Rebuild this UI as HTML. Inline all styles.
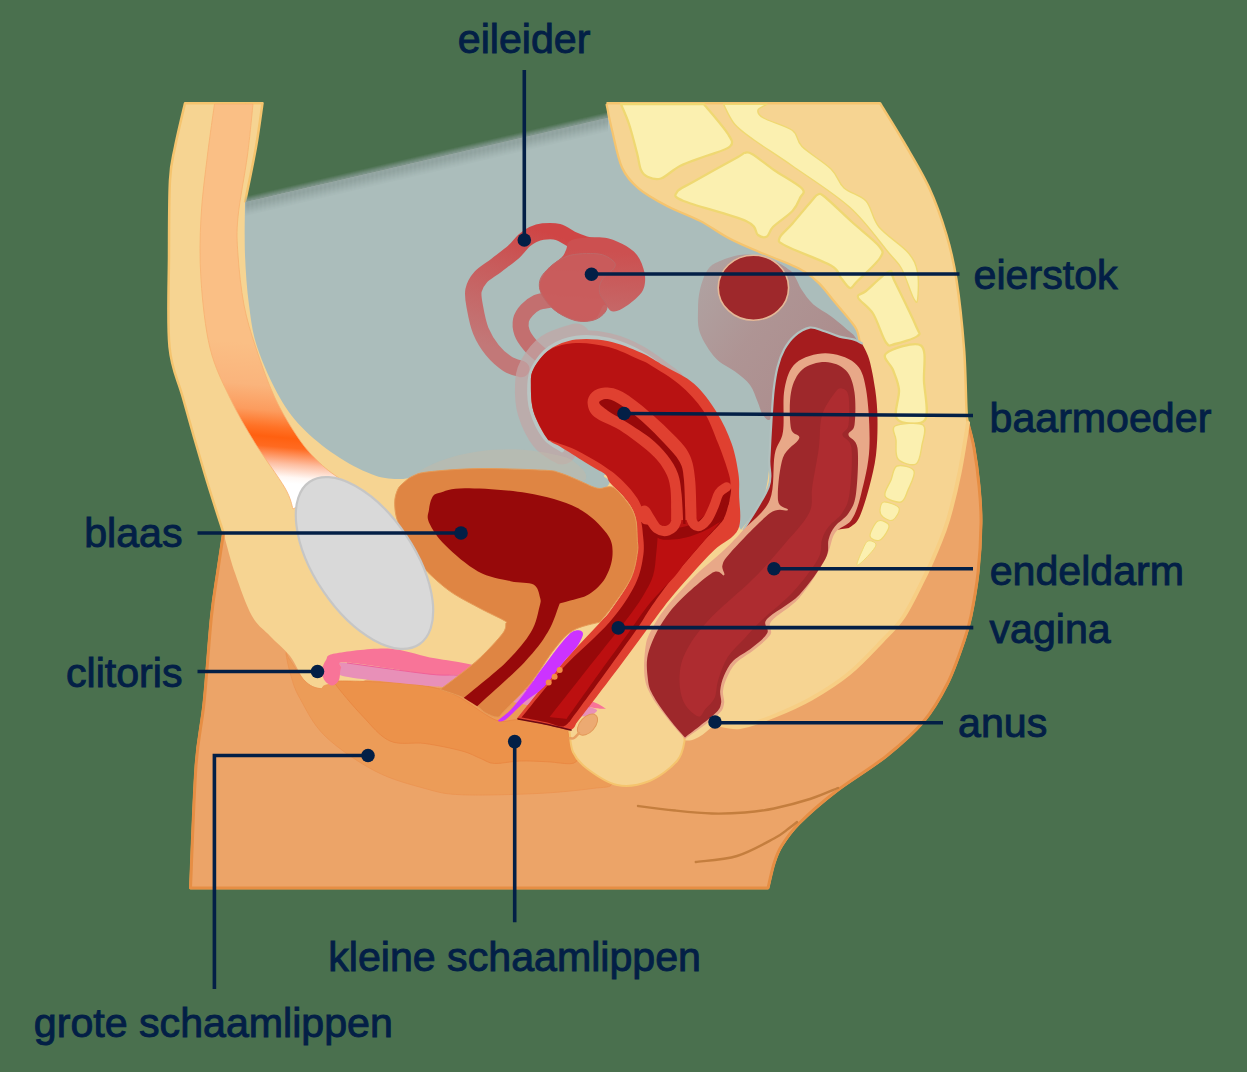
<!DOCTYPE html>
<html lang="nl">
<head>
<meta charset="utf-8">
<title>Anatomie zijaanzicht</title>
<style>
html,body{margin:0;padding:0;background:#4A704E;}
body{width:1247px;height:1072px;overflow:hidden;}
svg{display:block;}
text{font-family:"Liberation Sans",sans-serif;font-size:41.15px;fill:#031F46;stroke:#031F46;stroke-width:0.95px;}
.ln{stroke:#031F46;stroke-width:3.6;fill:none;}
.dot{fill:#031F46;}
</style>
</head>
<body>
<svg width="1247" height="1072" viewBox="0 0 1247 1072">
<defs>
<linearGradient id="gMus" gradientUnits="userSpaceOnUse" x1="262" y1="344" x2="250" y2="480">
<stop offset="0" stop-color="#FABF85"/>
<stop offset="0.30" stop-color="#FAB47C"/>
<stop offset="0.48" stop-color="#FC9C5E"/>
<stop offset="0.60" stop-color="#FF7226"/>
<stop offset="0.67" stop-color="#FF6010"/>
<stop offset="0.74" stop-color="#FF6A20"/>
<stop offset="0.86" stop-color="#FDBFA2"/>
<stop offset="0.955" stop-color="#FFF8F4"/>
<stop offset="1" stop-color="#FFFFFF"/>
</linearGradient>
<linearGradient id="gFade" gradientUnits="userSpaceOnUse" x1="0" y1="0" x2="4.1" y2="17">
<stop offset="0" stop-color="#8FA19E" stop-opacity="0"/>
<stop offset="0.55" stop-color="#93A5A2" stop-opacity="0.85"/>
<stop offset="1" stop-color="#ABBDBB" stop-opacity="1"/>
</linearGradient>
<linearGradient id="gTube" gradientUnits="userSpaceOnUse" x1="540" y1="230" x2="500" y2="350">
<stop offset="0" stop-color="#CF4545"/>
<stop offset="0.35" stop-color="#C85A5A"/>
<stop offset="1" stop-color="#C27878"/>
</linearGradient>
<linearGradient id="gOv" gradientUnits="userSpaceOnUse" x1="590" y1="250" x2="585" y2="322">
<stop offset="0" stop-color="#CC5050"/>
<stop offset="1" stop-color="#C46C6C"/>
</linearGradient>
<linearGradient id="gShade" gradientUnits="userSpaceOnUse" x1="700" y1="270" x2="830" y2="360">
<stop offset="0" stop-color="#B29292" stop-opacity="0.62"/>
<stop offset="0.5" stop-color="#AF8D8D" stop-opacity="0.85"/>
<stop offset="1" stop-color="#AC8B8B" stop-opacity="0.95"/>
</linearGradient>
</defs>
<path d="M185,103.2C183.3,110.5 177.5,134.2 175,147C172.5,159.8 171,162 170,180C169,198 169.1,227.2 169,255C168.9,282.8 167.2,323.2 169.5,347C171.8,370.8 177.2,377 183,398C188.8,419 197.8,450.5 204.5,473C211.2,495.5 220.3,523 223.5,533C222.5,539.7 219.5,559.2 217.5,573C215.5,586.8 213.8,594.3 211.5,616C209.2,637.7 206.6,678 204,703C201.4,728 198.2,735.2 196,766C193.8,796.8 191.4,867.7 190.5,888C286.8,888 671.8,888 768,888C769,883.9 771.8,870.5 774,863.5C776.2,856.5 777.3,852.7 781.5,846C785.7,839.3 789.8,832.7 799,823.5C808.2,814.3 821.9,802.2 836.5,791C851.1,779.8 871.9,767.7 886.5,756C901.1,744.3 913.8,733.1 924,721C934.2,708.9 940.8,696.8 947.5,683.5C954.2,670.2 960.1,652.2 964,641C967.9,629.8 968.7,627.3 971,616C973.3,604.7 976.3,588.5 978,573C979.7,557.5 980.8,537.6 981,523C981.2,508.4 980.2,498 979,485.5C977.8,473 975.8,458.4 974,448C972.2,437.6 969.2,429.3 968,423C966.8,416.7 967.2,422.5 966.5,410C965.8,397.5 965.7,369.7 964,348C962.3,326.3 959.4,298.8 956.5,280C953.6,261.2 951.1,250.4 946.5,235C941.9,219.6 936.1,202.9 929,187.5C921.9,172.1 912.2,156.6 904,142.5C895.8,128.4 884,109.8 880,103.2C834.4,103.2 652.1,103.2 606.5,103.2C606.8,105.7 607.8,115.5 608,118C547.5,132.1 305.5,188.3 245,202.4C246.8,193.2 253.1,163.5 256,147C258.9,130.5 261.4,110.5 262.5,103.2C249.6,103.2 197.9,103.2 185,103.2Z" fill="#F6D492"/>
<path d="M245,202.4C246.8,193.2 253.1,163.5 256,147C258.9,130.5 261.4,110.5 262.5,103.2C249.6,103.2 197.9,103.2 185,103.2C183.3,110.5 177.5,134.2 175,147C172.5,159.8 171,162 170,180C169,198 169.1,227.2 169,255C168.9,282.8 167.2,323.2 169.5,347C171.8,370.8 177.2,377 183,398C188.8,419 197.8,450.5 204.5,473C211.2,495.5 220.3,523 223.5,533C222.5,539.7 219.5,559.2 217.5,573C215.5,586.8 213.8,594.3 211.5,616C209.2,637.7 206.6,678 204,703C201.4,728 198.2,735.2 196,766C193.8,796.8 191.4,867.7 190.5,888C286.8,888 671.8,888 768,888C769,883.9 771.8,870.5 774,863.5C776.2,856.5 777.3,852.7 781.5,846C785.7,839.3 789.8,832.7 799,823.5C808.2,814.3 821.9,802.2 836.5,791C851.1,779.8 871.9,767.7 886.5,756C901.1,744.3 913.8,733.1 924,721C934.2,708.9 940.8,696.8 947.5,683.5C954.2,670.2 960.1,652.2 964,641C967.9,629.8 968.7,627.3 971,616C973.3,604.7 976.3,588.5 978,573C979.7,557.5 980.8,537.6 981,523C981.2,508.4 980.2,498 979,485.5C977.8,473 975.8,458.4 974,448C972.2,437.6 969.2,429.3 968,423C966.8,416.7 967.2,422.5 966.5,410C965.8,397.5 965.7,369.7 964,348C962.3,326.3 959.4,298.8 956.5,280C953.6,261.2 951.1,250.4 946.5,235C941.9,219.6 936.1,202.9 929,187.5C921.9,172.1 912.2,156.6 904,142.5C895.8,128.4 884,109.8 880,103.2C834.4,103.2 652.1,103.2 606.5,103.2" fill="none" stroke="#F5C46E" stroke-width="2.5" stroke-linejoin="round"/>
<path d="M223.5,533C222.5,539.7 219.5,559.2 217.5,573C215.5,586.8 213.8,594.3 211.5,616C209.2,637.7 206.6,678 204,703C201.4,728 198.2,735.2 196,766C193.8,796.8 191.4,867.7 190.5,888C286.8,888 671.8,888 768,888C769,883.9 771.8,870.5 774,863.5C776.2,856.5 777.3,852.7 781.5,846C785.7,839.3 789.8,832.7 799,823.5C808.2,814.3 821.9,802.2 836.5,791C851.1,779.8 871.9,767.7 886.5,756C901.1,744.3 913.8,733.1 924,721C934.2,708.9 940.8,696.8 947.5,683.5C954.2,670.2 960.1,652.2 964,641C967.9,629.8 968.7,627.3 971,616C973.3,604.7 976.3,588.5 978,573C979.7,557.5 980.8,537.6 981,523C981.2,508.4 980.2,498 979,485.5C977.8,473 975.8,458.4 974,448C972.2,437.6 969,427.2 968,423C966.6,431.3 962.8,456.8 959.5,473C956.2,489.2 951.6,507.7 948,520C944.4,532.3 941.6,538.2 938,547C934.4,555.8 932.2,561.5 926.5,573C920.8,584.5 911.4,604.7 904,616C896.6,627.3 891.2,631.4 882,641C872.8,650.6 860.8,663.9 849,673.5C837.2,683.1 824,691.4 811.5,698.5C799,705.6 785.9,711.2 774,716C762.1,720.8 749.7,725.7 740,727C730.3,728.3 720,724.5 716,724C710.7,726.7 696.7,744 684,740C671.3,736 660.7,708.3 640,700C619.3,691.7 589.7,693.3 560,690C530.3,686.7 488.7,683.3 462,680C435.3,676.7 420.3,668.3 400,670C379.7,671.7 351.7,687.2 340,690C328.3,692.8 333.3,687.2 330,687C326.7,686.8 324.2,689.5 320,688.5C315.8,687.5 310,686.4 305,681C300,675.6 295.8,663.5 290,656C284.2,648.5 276.3,642.7 270,636C263.7,629.3 257.8,626.5 252,616C246.2,605.5 239.8,586.8 235,573C230.2,559.2 225.4,539.7 223.5,533Z" fill="#ECA468"/>
<path d="M223.5,533C222.5,539.7 219.5,559.2 217.5,573C215.5,586.8 213.8,594.3 211.5,616C209.2,637.7 206.6,678 204,703C201.4,728 198.2,735.2 196,766C193.8,796.8 191.4,867.7 190.5,888C286.8,888 671.8,888 768,888C769,883.9 771.8,870.5 774,863.5C776.2,856.5 777.3,852.7 781.5,846C785.7,839.3 789.8,832.7 799,823.5C808.2,814.3 821.9,802.2 836.5,791C851.1,779.8 871.9,767.7 886.5,756C901.1,744.3 913.8,733.1 924,721C934.2,708.9 940.8,696.8 947.5,683.5C954.2,670.2 960.1,652.2 964,641C967.9,629.8 968.7,627.3 971,616C973.3,604.7 976.3,588.5 978,573C979.7,557.5 980.8,537.6 981,523C981.2,508.4 980.2,498 979,485.5C977.8,473 975.8,458.4 974,448C972.2,437.6 969,427.2 968,423" fill="none" stroke="#E68E44" stroke-width="3.0" stroke-linejoin="round"/>
<path d="M968,423C966.6,431.3 962.8,456.8 959.5,473C956.2,489.2 951.6,507.7 948,520C944.4,532.3 941.6,538.2 938,547C934.4,555.8 932.2,561.5 926.5,573C920.8,584.5 911.4,604.7 904,616C896.6,627.3 891.2,631.4 882,641C872.8,650.6 860.8,663.9 849,673.5C837.2,683.1 824,691.4 811.5,698.5C799,705.6 785.9,711.2 774,716C762.1,720.8 749.7,725.7 740,727C730.3,728.3 720,724.5 716,724" fill="none" stroke="#F7CE84" stroke-width="4" stroke-linecap="round"/>
<path d="M214.5,104C213.3,112.5 209.8,136.2 207.5,155C205.2,173.8 202.1,196.2 201,217C199.9,237.8 199.5,258.2 201,280C202.5,301.8 205.2,328.3 210,348C214.8,367.7 222.5,382.2 230,398C237.5,413.8 245.8,428 255,443C264.2,458 278.7,477 285,488C291.3,499 291.7,505.5 293,509C301.3,504.3 334.7,485.7 343,481C339.6,478.4 329.7,472.2 322.5,465.5C315.3,458.8 307.9,451.8 300,440.5C292.1,429.2 282.3,413.4 275,398C267.7,382.6 261.2,363.5 256,348C250.8,332.5 247,320.5 244,305C241,289.5 239,269.7 238,255C237,240.3 236.4,233.7 238,217C239.6,200.3 245,173.8 247.5,155C250,136.2 252.1,112.5 253,104C246.6,104 220.9,104 214.5,104Z" fill="url(#gMus)" stroke="#F8B070" stroke-width="0.8"/>
<g transform="translate(245,185.5)"><path d="M0,0L363,-88.6L363,-71.6L0,17Z" fill="url(#gFade)" transform="skewY(-13.72) scale(1,1)" opacity="0"/></g>
<path d="M245,202.4C245,211.2 244.3,237.9 245,255C245.7,272.1 246.9,289.5 249,305C251.1,320.5 252.3,332.5 257.5,348C262.7,363.5 272.1,384.2 280,398C287.9,411.8 295,420.5 305,430.5C315,440.5 328.3,450.5 340,458C351.7,465.5 365,472 375,475.5C385,479 392.5,478.9 400,479C407.5,479.1 416.7,476.5 420,476C443.3,476 536.7,476 560,476C564.2,477.2 578.6,481.3 585,483.5C591.4,485.7 594.9,488.3 598.4,489C601.9,489.7 604.1,488.8 606,487.5C607.9,486.2 610,483.2 610,481C610,478.8 599.3,476.3 606,474.5C612.7,472.7 631,465.8 650,470C669,474.2 704.8,490 720,500C735.2,510 737.5,525 741,530C745,523.8 759.8,509.5 765,493C770.2,476.5 769.8,449.5 772,431C774.2,412.5 775.3,395.2 778,382C780.7,368.8 781,358 788,352C795,346 807.7,346.3 820,346C832.3,345.7 855,349.3 862,350C861.7,348.3 860.9,343.4 860,340C859.1,336.6 858.5,333.3 856.7,329.9C854.9,326.5 853,324.1 849.3,319.4C845.6,314.7 839.3,307.5 834.3,301.5C829.3,295.5 824.4,288.6 819.4,283.6C814.4,278.6 809.5,274.8 804.5,271.6C799.5,268.4 797.1,267.4 789.6,264.2C782.1,261 769.7,256.4 759.7,252.2C749.8,248 739.9,244 729.9,238.8C719.9,233.6 710.5,226.4 700,220.9C689.5,215.4 677.2,211.4 667,206C656.8,200.6 646,194.7 638.5,188.3C631,181.9 626.4,177.2 622,167.5C617.6,157.8 614.3,138.2 612,130C609.7,121.8 608.7,120 608,118C547.5,132.1 305.5,188.3 245,202.4Z" fill="#ABBDBB"/>
<path d="M245.5,196.4L608,112.0L608,113.25L245.5,197.65Z" fill="#8FA19E" fill-opacity="0.12"/>
<path d="M245.5,197.4L608,113.0L608,114.25L245.5,198.65Z" fill="#8FA19E" fill-opacity="0.25"/>
<path d="M245.5,198.4L608,114.0L608,115.25L245.5,199.65Z" fill="#8FA19E" fill-opacity="0.39"/>
<path d="M245.5,199.4L608,115.0L608,116.25L245.5,200.65Z" fill="#8FA19E" fill-opacity="0.54"/>
<path d="M245.5,200.4L608,116.0L608,117.25L245.5,201.65Z" fill="#8FA19E" fill-opacity="0.69"/>
<path d="M245.5,201.4L608,117.0L608,118.25L245.5,202.65Z" fill="#8FA19E" fill-opacity="0.84"/>
<path d="M245.5,202.4L608,118.0L608,119.25L245.5,203.65Z" fill="#91A3A0" fill-opacity="1.00"/>
<path d="M245.5,203.4L608,119.0L608,120.25L245.5,204.65Z" fill="#91A3A0" fill-opacity="1.00"/>
<path d="M245.5,204.4L608,120.0L608,121.25L245.5,205.65Z" fill="#91A3A0" fill-opacity="1.00"/>
<path d="M245.5,205.4L608,121.0L608,122.25L245.5,206.65Z" fill="#91A3A0" fill-opacity="1.00"/>
<path d="M245.5,206.4L608,122.0L608,123.25L245.5,207.65Z" fill="#94A6A3" fill-opacity="1.00"/>
<path d="M245.5,207.4L608,123.0L608,124.25L245.5,208.65Z" fill="#96A8A5" fill-opacity="1.00"/>
<path d="M245.5,208.4L608,124.0L608,125.25L245.5,209.65Z" fill="#99ABA8" fill-opacity="1.00"/>
<path d="M245.5,209.4L608,125.0L608,126.25L245.5,210.65Z" fill="#9BADAB" fill-opacity="1.00"/>
<path d="M245.5,210.4L608,126.0L608,127.25L245.5,211.65Z" fill="#9EB0AE" fill-opacity="1.00"/>
<path d="M245.5,211.4L608,127.0L608,128.25L245.5,212.65Z" fill="#A1B3B0" fill-opacity="1.00"/>
<path d="M245.5,212.4L608,128.0L608,129.25L245.5,213.65Z" fill="#A3B5B3" fill-opacity="1.00"/>
<path d="M245.5,213.4L608,129.0L608,130.25L245.5,214.65Z" fill="#A6B8B6" fill-opacity="1.00"/>
<path d="M245.5,214.4L608,130.0L608,131.25L245.5,215.65Z" fill="#A8BAB8" fill-opacity="1.00"/>
<path d="M606.5,104C607.4,108.3 609.4,119.4 612,130C614.6,140.6 617.6,157.8 622,167.5C626.4,177.2 631,181.9 638.5,188.3C646,194.7 656.8,200.6 667,206C677.2,211.4 689.5,215.4 700,220.9C710.5,226.4 719.9,233.6 729.9,238.8C739.9,244 749.8,248 759.7,252.2C769.7,256.4 782.1,261 789.6,264.2C797.1,267.4 799.5,268.4 804.5,271.6C809.5,274.8 814.4,278.6 819.4,283.6C824.4,288.6 829.3,295.5 834.3,301.5C839.3,307.5 845.6,314.7 849.3,319.4C853,324.1 854.9,326 856.7,329.9C858.5,333.8 859.5,340.8 860,343" fill="none" stroke="#F5C46E" stroke-width="2.2"/>
<path d="M621,104.2C634.8,104.2 690.2,104.2 704,104.2C708,109.2 723.7,127 728,134C732.3,141.1 733.7,142.8 730,146.5C726.3,150.2 714.3,152.8 706,156C697.7,159.2 687.5,162.2 680,166C672.5,169.8 666.3,176.7 661,178.5C655.7,180.3 651.3,178.4 648,177C644.7,175.6 642.8,174 641,170C639.2,166 639,160.7 637,153C635,145.3 631.7,132.1 629,124C626.3,115.9 622.3,107.5 621,104.2Z" fill="#FBF0B0" stroke="#EFD872" stroke-width="2.3" stroke-linejoin="round"/>
<path d="M744.5,153C746.8,152.5 747.1,151.2 752,154C756.9,156.8 765.7,164.2 774,170C782.3,175.8 797.7,183.8 802,188.5C806.3,193.2 801.6,194.2 800,198C798.4,201.8 797,206.2 792.5,211C788,215.8 777.2,222.8 773,227C768.8,231.2 769.5,235.2 767,236.5C764.5,237.8 761.5,237.6 758,235C754.5,232.4 758.4,226.7 746,221C733.6,215.3 695,205.8 683.5,201C672,196.2 675.4,195.2 677,192C678.6,188.8 682.8,187.8 693,182C703.2,176.2 729.4,161.8 738,157C746.6,152.2 742.2,153.5 744.5,153Z" fill="#FBF0B0" stroke="#EFD872" stroke-width="2.3" stroke-linejoin="round"/>
<path d="M818,194.5C820.2,193.8 819.3,192.4 825,197C830.7,201.6 843,213.8 852,222C861,230.2 874.3,240 879,246C883.7,252 883.7,252.1 880,258C876.3,263.9 862,276.5 857,281.5C852,286.5 852.7,288.6 850,288C847.3,287.4 844.2,281.8 841,278C837.8,274.2 840.2,270.8 831,265.5C821.8,260.2 794.6,250.6 786,246C777.4,241.4 778.4,241.8 779.5,238C780.6,234.2 787.2,229.7 792.5,223.5C797.8,217.3 807.2,205.8 811.5,201C815.8,196.2 815.8,195.2 818,194.5Z" fill="#FBF0B0" stroke="#EFD872" stroke-width="2.3" stroke-linejoin="round"/>
<path d="M866,291C871.2,286.7 884.3,273.3 889,271.5C893.7,269.7 889.5,270.9 894,280C898.5,289.1 912.1,316.7 916,326C919.9,335.3 921,333 917.5,336C914,339 900.2,342.9 895,344C889.8,345.1 889.7,347.6 886,342.5C882.3,337.4 877.7,321 873,313.5C868.3,306 859.2,301.2 858,297.5C856.8,293.8 860.8,295.3 866,291Z" fill="#FBF0B0" stroke="#EFD872" stroke-width="2.3" stroke-linejoin="round"/>
<path d="M886,353.5C890.7,349.4 914.7,340.8 921,345.5C927.3,350.2 923.3,369.1 924,381.5C924.7,393.9 929.5,413.8 925,420C920.5,426.2 901.3,424 897,419C892.7,414 899.7,398.2 899,390C898.3,381.8 895.2,376.1 893,370C890.8,363.9 881.3,357.6 886,353.5Z" fill="#FBF0B0" stroke="#EFD872" stroke-width="2.3" stroke-linejoin="round"/>
<path d="M895,426C899.5,423.5 918.5,421.8 923,425C927.5,428.2 923.2,438.5 922,445C920.8,451.5 920,461.7 916,464C912,466.3 901.3,463 898,459C894.7,455 896.5,445.5 896,440C895.5,434.5 890.5,428.5 895,426Z" fill="#FBF0B0" stroke="#EFD872" stroke-width="1.4" stroke-linejoin="round"/>
<path d="M897,466C900.8,464.5 912.2,467 914,471C915.8,475 910.2,484.8 908,490C905.8,495.2 904.8,501 901,502C897.2,503 886.7,499.7 885,496C883.3,492.3 889,485 891,480C893,475 893.2,467.5 897,466Z" fill="#FBF0B0" stroke="#EFD872" stroke-width="1.4" stroke-linejoin="round"/>
<path d="M884,502C887.2,501.7 897.5,505 899,508C900.5,511 895.7,518.5 893,520C890.3,521.5 885.2,518.7 883,517C880.8,515.3 879.8,512.5 880,510C880.2,507.5 880.8,502.3 884,502Z" fill="#FBF0B0" stroke="#EFD872" stroke-width="1.2" stroke-linejoin="round"/>
<path d="M878,521C881.2,519.3 888.7,522.8 889,526C889.3,529.2 883.2,538.3 880,540C876.8,541.7 870.3,539.2 870,536C869.7,532.8 874.8,522.7 878,521Z" fill="#FBF0B0" stroke="#EFD872" stroke-width="1.2" stroke-linejoin="round"/>
<path d="M868,541C870.3,540 876.3,542.2 876,545C875.7,547.8 869.2,554.7 866,558C862.8,561.3 857.7,566.2 857,565C856.3,563.8 860.2,555 862,551C863.8,547 865.7,542 868,541Z" fill="#FBF0B0" stroke="#EFD872" stroke-width="1.0" stroke-linejoin="round"/>
<path d="M723.5,104.2C730.8,104.2 759.8,104.2 767,104.2C765.5,105.2 758.6,107.7 758,110C757.4,112.3 757.8,114.6 763.5,118C769.2,121.4 786.1,125.8 792.5,130.5C798.9,135.2 795.6,140.1 802,146.5C808.4,152.9 824,162.1 831,169C838,175.9 838.2,182.7 844,188C849.8,193.3 860.2,194.5 866,201C871.8,207.5 872,218.4 879,227C886,235.6 901.6,245 908,252.5C914.4,260 915.9,264.1 917.5,272C919.1,279.9 918.2,295.8 917.5,300C916.8,304.2 915.7,302.2 913,297C910.3,291.8 905.6,275.9 901.5,268.5C897.4,261.1 897.1,262.7 888.5,252.5C879.9,242.3 866,221.9 850,207.5C834,193.1 808.5,177.2 792.5,166C776.5,154.8 763.7,147 754,140C744.3,133 739.6,130 734.5,124C729.4,118 725.3,107.5 723.5,104.2Z" fill="#FBF0B0" stroke="#EFD872" stroke-width="1.4" stroke-linejoin="round"/>
<path d="M286,653.5C286.2,656.2 288.7,668.5 291,676C293.3,683.5 294.3,688.5 300,698.5C305.7,708.5 312.5,723.9 325,736C337.5,748.1 358.3,762.2 375,771C391.7,779.8 410.5,784.5 425,788.5C439.5,792.5 443.3,794 462,794.8C480.7,795.6 515.3,794.5 537,793.5C558.7,792.5 579.5,790.2 592,788.5C604.5,786.8 610.7,788.2 612,783.5C613.3,778.8 606.2,768.1 600,760C593.8,751.9 581.7,745 575,735C568.3,725 578.8,707.5 560,700C541.2,692.5 498.7,692.7 462,690C425.3,687.3 363.7,684.2 340,684C316.3,683.8 325.8,689 320,688.5C314.2,688 310,685.8 305,681C300,676.2 293.2,664.6 290,660C286.8,655.4 285.8,650.8 286,653.5Z" fill="#EC9C58" stroke="#EB9350" stroke-width="0.8"/>
<path d="M335,683.5C331.2,677.7 329.2,681.1 340,681C350.8,680.9 383.8,681.8 400,683C416.2,684.2 427.4,686 437.5,688.5C447.6,691 452.3,693.4 460.3,697.8C468.3,702.1 478.9,710.7 485.6,714.6C492.3,718.5 495.4,720.5 500.7,721.4C506,722.2 509.7,719.7 517.6,719.7C525.5,719.7 540,720 547.9,721.4C555.8,722.8 561.1,725.3 564.7,728.1C568.4,730.9 568.4,734.3 569.8,738.2C571.2,742.1 571.5,748.7 573.1,751.7C574.7,754.7 579.7,754 579.5,756C579.3,758 577.3,762.5 572,763.5C566.7,764.5 556.6,762.2 547.9,761.8C539.1,761.4 528.4,760.7 519.5,761C510.6,761.3 501,763.9 494.5,763.5C488,763.1 485.9,760.5 480.5,758.4C475.1,756.3 471.2,753.5 462,751C452.8,748.5 437,745.2 425,743.5C413,741.8 400.4,745.6 390,741C379.6,736.4 371.7,725.6 362.5,716C353.3,706.4 338.8,689.3 335,683.5Z" fill="#EC924A" stroke="#E98540" stroke-width="0.8"/>
<path d="M569.5,731C570.1,734.5 570.1,745.8 573,752C575.9,758.2 579.7,763 587,768.5C594.3,774 606.6,782.9 617,785C627.4,787.1 639.5,785 649.5,781C659.5,777 671.2,767.7 677,761C682.8,754.3 683.7,745.6 684.5,741C685.3,736.4 682.4,734.8 682,733.5C679.9,731.4 674.5,727.2 669.5,721C664.5,714.8 656.9,706.2 652,696C647.1,685.8 647,662.7 640,660C633,657.3 619.2,671.3 610,680C600.8,688.7 591.8,703.5 585,712C578.2,720.5 572.1,727.8 569.5,731Z" fill="#F6D492"/>
<path d="M569.5,731C570.1,734.5 570.1,745.8 573,752C575.9,758.2 579.7,763 587,768.5C594.3,774 606.6,782.9 617,785C627.4,787.1 639.5,785 649.5,781C659.5,777 671.2,767.7 677,761C682.8,754.3 683.7,745.6 684.5,741C685.3,736.4 682.4,734.8 682,733.5" fill="none" stroke="#F5C46E" stroke-width="2" stroke-linecap="round"/>
<path d="M341,667C341.4,664.7 332.7,661.6 347.5,662.8C362.3,664 409.9,672 430,674.2C450.1,676.4 449.7,672.9 468,676C486.3,679.1 519.7,687.8 540,693C560.3,698.2 580.7,703.8 590,707C599.3,710.2 597.4,710.5 596,712C594.6,713.5 590.9,717 581.6,716.3C572.3,715.6 553.6,710.9 540,708C526.4,705.1 516.2,702.5 500,699C483.8,695.5 454.2,689.2 442.5,687C430.8,684.8 446.2,687.8 430,686C413.8,684.2 359.8,679.7 345,676.5C330.2,673.3 340.6,669.3 341,667Z" fill="#E890B8"/>
<path d="M322,671C322.2,667.5 323.8,662.9 326,660C328.2,657.1 324.8,655.4 335,653.5C345.2,651.6 371.7,647.9 387.5,648.5C403.3,649.1 416.5,654.8 430,657.4C443.5,660 450.4,659.8 468.7,664.1C487,668.4 519.5,676.8 540,683C560.5,689.2 580.7,696.9 591.7,701.2C602.7,705.5 603.6,707.5 606,708.7C603.3,708.4 601,709.6 590,707C579,704.4 560.3,698.2 540,693C519.7,687.8 486.3,679.1 468,676C449.7,672.9 450.1,676.5 430,674.2C409.9,672 362.3,663.5 347.5,662.5C332.7,661.5 342.4,665.1 341,668C339.6,670.9 340.4,677.1 339,680C337.6,682.9 334.8,685.3 332.5,685.5C330.2,685.7 326.8,683.4 325,681C323.2,678.6 321.8,674.5 322,671Z" fill="#F87498"/>
<path d="M347,663C360.8,664.9 409.8,672 430,674.2C450.2,676.5 449.7,673.4 468,676.5C486.3,679.6 519.7,687.9 540,693C560.3,698.1 581.7,704.7 590,707" fill="none" stroke="#F0609A" stroke-width="1"/>
<path d="M744.8,254.5C736.1,254.8 725.6,258.6 719.4,261.2C713.2,263.8 710.7,265.3 707.5,270C704.3,274.7 701.6,282.9 700,289.6C698.4,296.3 698,302.8 698,310C698,317.2 697.1,325 700,333C702.9,341 709.7,351.6 715.5,358C721.3,364.4 729.2,367.1 735,371.6C740.8,376.1 746.2,380 750,385C753.8,390 755.3,396.5 757.5,401.5C759.7,406.5 760.8,412.2 763,415C765.2,417.8 768.7,423 771,418C773.3,413 773.8,396 777,385C780.2,374 782.8,358.5 790,352C797.2,345.5 808.7,346.8 820,346C831.3,345.2 852.1,348.4 858,347C863.9,345.6 856.7,339.9 855.2,337.3C853.8,334.7 853.3,334.8 849.3,331.3C845.3,327.8 837.3,320.9 831.3,316.4C825.3,311.9 818.4,309 813.4,304.5C808.4,300 804.5,294.1 801.5,289.6C798.5,285.1 797.5,280.9 795.5,277.6C793.5,274.4 793.6,273.1 789.6,270.1C785.6,267.1 779.1,262.3 771.6,259.7C764.1,257.1 753.5,254.2 744.8,254.5Z" fill="url(#gShade)"/>
<ellipse cx="753.4" cy="287.7" rx="35.2" ry="32.5" fill="#9E282B" stroke="#E4B898" stroke-width="1.6"/>
<path d="M809.6,327.6C804.6,328.4 798.8,332.2 794.6,335.8C790.4,339.4 787.1,344.1 784.2,349.3C781.4,354.5 779.2,360.5 777.5,367.2C775.8,373.9 774.7,380.9 773.7,389.6C772.7,398.3 772.2,407.7 771.5,419.4C770.8,431.1 769.8,448.7 769.3,460C768.8,471.3 772.8,475.4 768.5,487C764.2,498.6 747.8,522.5 743.7,529.6C746.4,531.3 742.5,540.3 760,540C777.5,539.7 834.2,530 849,528C850.7,526.3 855.7,524.7 859,518C862.3,511.3 866.2,498.5 869,488C871.8,477.5 874.6,466.4 876,455C877.4,443.6 877.6,430.3 877.5,419.4C877.4,408.5 876.6,399.6 875.2,389.6C873.8,379.7 871.5,367.4 869.3,359.7C867.1,352 863,346 861.8,343.3C860.5,342.7 858,340.7 854.3,339.6C850.6,338.5 844.4,338 839.4,336.6C834.4,335.2 829.5,332.8 824.5,331.3C819.5,329.8 814.6,326.9 809.6,327.6Z" fill="#A51C1E"/>
<path d="M743.7,529.6C747.8,522.5 764.2,498.6 768.5,487C772.8,475.4 768.8,471.3 769.3,460C769.8,448.7 770.8,431.1 771.5,419.4C772.2,407.7 772.7,398.3 773.7,389.6C774.7,380.9 775.8,373.9 777.5,367.2C779.2,360.5 781.4,354.5 784.2,349.3C787.1,344.1 790.4,339.4 794.6,335.8C798.8,332.2 804.6,328.4 809.6,327.6C814.6,326.9 819.5,329.8 824.5,331.3C829.5,332.8 834.4,335.2 839.4,336.6C844.4,338 850.6,338.5 854.3,339.6C858,340.7 860.5,342.7 861.8,343.3" fill="none" stroke="#B2C1BF" stroke-width="2.2" stroke-linecap="round"/>
<path d="M825.3,353.3C815.5,353.3 802.8,357.1 796,363C789.2,368.9 786.7,377.6 784.5,389C782.3,400.4 784.6,420.7 783,431.6C781.4,442.5 776.9,443.1 774.7,454.5C772.5,465.9 775,487.5 769.8,500C764.6,512.5 750.5,522.1 743.7,529.6C737,537.1 734.2,540.1 729.3,545C724.3,549.9 719,554.6 714,559C709,563.4 704.9,566.2 699.4,571.5C693.9,576.8 686.9,584.1 681,590.5C675.1,596.9 668.8,603.8 664,610C659.2,616.2 655.5,622.2 652.5,628C649.5,633.8 647.1,637 645.8,645C644.5,653 643.5,667.3 644.5,676C645.5,684.7 647.8,689.5 652,697C656.2,704.5 664,714 669.5,721C675,728 682.4,736 685,739C690.3,735.1 710.5,721.3 717,715.5C723.5,709.7 723,708.1 724,704C725,699.9 722.5,695.4 723,691C723.5,686.6 724.8,682.2 727,677.5C729.2,672.8 731.4,667.7 736,663C740.6,658.3 748.8,654.2 754.5,649.5C760.2,644.8 767.7,639.2 770.5,634.5C773.3,629.8 766.7,627.1 771.5,621C776.3,614.9 790.2,608.3 799.2,598C808.2,587.7 819.3,569.8 825.3,559C831.3,548.2 830.6,539.5 835,533C839.4,526.5 847,526.5 851.4,520C855.8,513.5 858.2,505.7 861.2,493.7C864.2,481.7 868.6,465.4 869.4,448C870.2,430.6 868.5,403.2 866,389C863.5,374.8 861.5,368.9 854.7,363C847.9,357.1 835.1,353.3 825.3,353.3Z" fill="#E8A888"/>
<path d="M825.3,362C818,361.9 808.1,364.5 802.4,369.6C796.7,374.7 792.9,382.6 791,392.4C789.1,402.2 789.6,420.8 791,428.4C792.4,436 800.6,433.3 799.2,438.2C797.9,443.1 786.4,447.5 782.9,457.8C779.4,468.1 777.2,491.5 778,500.2C778.8,508.9 789.2,507.8 787.8,510C786.4,512.2 779.3,506.2 769.8,513.3C760.3,520.4 738.5,543.7 730.6,552.4C722.7,561.1 723.5,561.7 722.4,565.5C721.3,569.3 725.9,573.9 724,575.3C722.1,576.7 720,567.7 711,573.7C702,579.7 680.5,598.4 670.2,611.2C659.9,624 652.7,638.9 649,650.4C645.3,661.9 647.2,672.2 648,680C648.8,687.8 650.3,690.3 654,697C657.7,703.7 664.8,713.2 670,720C675.2,726.8 682.5,734.6 685,737.5C689.9,733.6 708.5,719.6 714.5,714C720.5,708.4 720,707.6 721,703.7C722,699.8 719.7,695.3 720.2,690.6C720.7,685.9 721.8,680.7 724,675.7C726.2,670.7 728.6,665.4 733.3,660.7C738,656 746.3,652.3 752,647.7C757.7,643.1 764.8,637.8 767.3,633C769.8,628.2 761.7,625.4 767,619C772.3,612.6 789.5,604.9 799.2,594.9C808.9,584.9 820.4,568.2 825.3,559C830.2,549.8 827,544.9 828.6,539.4C830.2,533.9 831.8,530.6 835.1,526.3C838.4,521.9 845,518.7 848.5,513.3C852,507.9 854.5,504.6 856,493.7C857.5,482.8 858.8,457.8 857.5,448C856.2,438.2 849,438.7 848.5,434.9C848,431.1 853.5,432.1 854.5,425C855.5,417.9 855.9,401.5 854.5,392.4C853.1,383.3 850.9,375.6 846,370.5C841.1,365.4 832.6,362.1 825.3,362Z" fill="#9E282B"/>
<path d="M835,392.4C831.7,396.9 824.7,406 822,415.3C819.3,424.6 820.4,436.1 818.8,448C817.2,459.9 813.8,476.1 812.2,487C810.6,497.9 813.9,503.5 809,513.3C804.1,523.1 792.1,535.1 782.9,546C773.6,556.9 766,566.1 753.5,578.6C741,591.1 719.2,608.5 707.8,621C696.4,633.5 689.6,643.9 684.9,653.7C680.2,663.5 679.6,671.7 679.5,680C679.4,688.3 681.3,697.4 684.5,703.5C687.7,709.6 695,715.6 698.5,716.5C702,717.4 702.6,712.1 705.3,709C708,705.9 712.4,702.9 714.6,698C716.8,693.1 716.2,686.2 718.4,679.4C720.6,672.6 723.4,663.8 727.7,657C732.1,650.2 738.8,644.6 744.5,638.4C750.2,632.2 753.9,627.7 762,620C770.1,612.3 783.7,602.2 793,592C802.3,581.8 813.2,567.8 818,559C822.8,550.2 820.2,544.9 822,539.4C823.8,533.9 825.7,530.6 829,526.3C832.3,521.9 838.6,518.7 842,513.3C845.4,507.9 847.9,504.6 849.5,493.7C851.1,482.8 852.7,457.8 851.5,448C850.3,438.2 843,438.7 842.5,434.9C842,431.1 847.5,431.5 848.5,425C849.5,418.5 849.6,402.1 848.5,396C847.4,389.9 844.2,389.1 842,388.5C839.8,387.9 838.3,387.9 835,392.4Z" fill="#AE2C30"/>
<path d="M521.2,369C519,368.2 512.5,367.1 507.7,364C502.9,360.9 496.8,355.6 492.3,350.1C487.8,344.6 483.7,337.9 480.8,330.9C477.9,323.8 476.2,314.5 475,307.8C473.8,301.1 472.5,295.6 473.5,290.5C474.5,285.4 477,281.2 480.8,277C484.6,272.8 490.8,269.6 496.2,265.4C501.6,261.2 508.9,256.1 513.5,252C518.1,247.8 520.9,243.4 524.1,240.5C527.4,237.6 529.9,236 533,234.5C536.1,233 538.8,231.9 543,231.5C547.2,231.1 553,230.6 558,232C563,233.4 568.8,237.9 573.2,240C577.7,242.1 581.6,243.3 584.7,244.3C587.8,245.3 590.8,245.7 592,246" fill="none" stroke="url(#gTube)" stroke-width="16.5" stroke-linecap="round" stroke-linejoin="round"/>
<path d="M549,300C547,300.4 540.7,300.8 537,302.5C533.3,304.2 529.7,307.1 527,310C524.3,312.9 521.8,316.2 521,320C520.2,323.8 520.5,328.3 522,332.5C523.5,336.7 526.7,341.1 530,345C533.3,348.9 540,354.2 542,356" fill="none" stroke="#C36F6F" stroke-width="16" stroke-linecap="round"/>
<path d="M572,240C578,237.9 593.7,236.9 602,237.5C610.3,238.1 616.2,240.9 622,243.8C627.8,246.7 633.2,250.2 637,255C640.8,259.8 643.3,267.1 644.5,272.5C645.7,277.9 645.2,283.3 644,287.5C642.8,291.7 640.7,293.9 637,297.5C633.3,301.1 626.2,306.5 622,308.8C617.8,311.1 615,311.9 612,311.3C609,310.7 606.7,303.9 604,305C601.3,306.1 599.7,315.3 596,318C592.3,320.7 587.7,321.8 582,321.3C576.3,320.8 567.7,317.9 562,315C556.3,312.1 551.8,308.4 548,303.8C544.2,299.2 539.7,293.1 539.5,287.5C539.3,281.9 543.2,275.1 547,270C550.8,264.9 558.8,260.3 562,257C565.2,253.7 564.3,252.8 566,250C567.7,247.2 566,242.1 572,240Z" fill="url(#gOv)"/>
<path d="M544.5,272.5C549.1,267.3 558.2,259.4 567,256.3C575.8,253.2 589.5,253.2 597,253.8C604.5,254.4 609.1,257.7 612,260C614.9,262.3 616.2,264.2 614.5,267.5C612.8,270.8 604.5,275.8 602,280C599.5,284.2 598.7,287.9 599.5,292.5C600.3,297.1 607.4,303.1 607,307.5C606.6,311.9 601.6,316.5 597,318.8C592.4,321.1 585.3,321.9 579.5,321.3C573.7,320.7 567.2,317.9 562,315C556.8,312.1 552,308.4 548.3,303.8C544.5,299.2 540.1,292.7 539.5,287.5C538.9,282.3 539.9,277.7 544.5,272.5Z" fill="#C95C5C" stroke="#BE6868" stroke-width="1.0" fill-opacity="0.9"/>
<g opacity="0.72">
<path d="M676,378C670.2,373.8 652.2,359.3 641,353C629.8,346.7 619.5,342.5 608.6,340C597.8,337.5 585.7,336.7 575.9,338C566.1,339.3 554.1,346.3 549.8,348" fill="none" stroke="#C2A6A6" stroke-width="14" stroke-linecap="round"/>
<path d="M575.9,338C571.5,339.7 556.9,343.1 549.8,348C542.7,352.9 536.9,361.3 533.5,367.5C530.1,373.7 529.8,378 529.5,385.3C529.2,392.6 529.4,402.7 532,411.4C534.6,420.1 540,431.2 545,437.6C550,444 559.2,447.9 562,450" fill="none" stroke="#C2A6A6" stroke-width="29" stroke-linecap="round"/>
</g>
<path d="M676,378C670.2,373.8 652.2,359.3 641,353C629.8,346.7 619.5,342.5 608.6,340C597.8,337.5 585.7,336.7 575.9,338C566.1,339.3 556.9,343.1 549.8,348C542.7,352.9 536.9,361.3 533.5,367.5C530.1,373.7 529.8,378 529.5,385.3C529.2,392.6 529.4,402.7 532,411.4C534.6,420.1 540,431.2 545,437.6C550,444 559.2,447.9 562,450" fill="none" stroke="#B9C6C4" stroke-width="4.5" stroke-linecap="round"/>
<path d="M530.9,385.3C530.9,378.2 530.4,375 533.5,369C536.6,363 542.7,354.3 549.8,349.4C556.9,344.5 566.1,341 575.9,339.6C585.7,338.2 597.7,339 608.6,341.2C619.5,343.4 631.9,348.6 641.2,352.7C650.5,356.8 655.6,360.8 664.5,366C673.4,371.2 685.6,376.2 694.3,383.9C703,391.6 710.5,402.2 716.7,412.2C722.9,422.1 728,433.4 731.6,443.6C735.2,453.8 737.1,464.9 738.4,473.4C739.6,481.8 739.1,485 739.1,494.3C739.1,503.6 742.3,520 738.2,529.3C734.1,538.6 722.3,542.4 714.3,550.1C706.3,557.8 697.8,567.3 690.4,575.5C683,583.7 676.1,591.4 669.6,599.4C663.1,607.4 659.9,612.2 651.6,623.3C643.3,634.4 632.5,649.4 620,666C607.5,682.6 583.8,713.5 576.5,723C575.4,724.1 575,729.5 569.8,729.8C564.5,730 553.9,726.3 545,724.5C536.1,722.7 521.4,719.8 516.7,718.8C523.9,710 546.2,681.9 560,666C573.8,650.1 591.1,632.4 599.4,623.3C607.7,614.2 604.9,618.3 609.9,611.3C614.9,604.3 624.8,591 629.3,581.5C633.8,572 635.5,562.4 636.7,554.6C638,546.9 636.8,540.2 636.8,535C636.8,529.8 636.9,526.9 636.5,523.4C636.1,519.9 635.4,516.8 634.3,513.7C633.2,510.6 632,508.2 629.8,504.8C627.5,501.4 624.1,497.3 620.8,493.6C617.5,489.9 612.5,485.9 610,482.8C607.5,479.7 608.2,477.2 605.9,474.9C603.6,472.6 599.7,471.1 596.2,469C592.7,466.9 589,464.7 585,462.2C581,459.7 576.2,456.6 572,454C567.8,451.4 564.2,449.3 560,446.6C555.8,443.9 550.9,443.5 546.5,437.6C542.1,431.7 536.1,420.1 533.5,411.4C530.9,402.7 530.9,392.4 530.9,385.3Z" fill="#E04030"/>
<path d="M641.2,521.8C642.7,522.3 640.2,524.1 650,525C659.8,525.9 687.7,528.2 700,527C712.3,525.8 723.6,515.4 724,518C724.4,520.6 709,535.1 702.4,542.7C695.8,550.3 690,557.1 684.5,563.6C679,570.1 675.3,574 669.6,581.5C663.9,589 655.6,600.4 650.1,608.4C644.6,616.4 644.1,618.7 636.7,629.3C629.4,639.9 617.1,656.6 606,672C594.9,687.4 575.8,713.2 569.8,721.4C568.5,722.2 566.1,726.4 562,726.5C557.9,726.6 551.8,723.5 545,722C538.2,720.5 525.4,718.2 521.5,717.5C528.2,709.4 547.3,685 562,669C576.7,653 597.7,635.9 609.9,621.8C622.1,607.7 629.6,595.7 635.2,584.5C640.8,573.3 642.1,563.3 643.4,554.6C644.6,545.9 643.1,537.7 642.7,532.2C642.3,526.7 641.5,523.5 641.2,521.8Z" fill="#97090A"/>
<path d="M657.6,537.5C662.1,537.1 675,537.3 684.5,535.2C694,533.1 707.8,527.5 714.3,524.8C720.8,522.1 721.8,519.8 723.3,518.8C719.8,522.8 708.9,535.2 702.4,542.7C695.9,550.2 689,558.1 684.5,563.6C680,569.1 681.2,568.9 675.5,575.5C669.8,582.1 657.8,593.6 650,603C642.2,612.4 637.3,620.5 629,632C620.7,643.5 610.4,657.5 600,672C589.6,686.5 572.1,711.2 566.5,719C563.7,718.7 552.4,717.4 549.6,717.1C555.5,709.6 572.5,687.9 585,672C597.5,656.1 615.2,634.4 624.8,621.8C634.4,609.2 638,604.1 642.7,596.4C647.4,588.7 650.9,582.5 653.1,575.5C655.3,568.5 655.4,560.9 656.1,554.6C656.9,548.3 657.4,540.4 657.6,537.5Z" fill="#BC0F10"/>
<path d="M518,719C522.5,719.8 536.2,722.2 545,724C553.8,725.8 566.7,729 571,730" fill="none" stroke="#6E0A14" stroke-width="1.6" stroke-linecap="round"/>
<path d="M530.9,385.3C530.9,378.2 530.4,374.9 533.5,369C536.6,363.1 542.7,354.1 549.8,349.8C556.9,345.5 566.1,343.5 575.9,343C585.7,342.5 598.2,344.3 608.6,347C619,349.7 630.9,355.9 638,359C645.1,362.1 644.1,361.2 651,365.5C657.9,369.8 670.7,377 679.4,384.5C688.1,392 696.8,400.8 703.3,410.7C709.8,420.6 714,433.2 718.2,443.6C722.4,454.1 726.7,466.3 728.7,473.4C730.7,480.5 730.6,482.1 730.3,486C730,489.9 729,492.7 727,497C725,501.3 722.5,506.3 718,512C713.5,517.7 706.3,527 700,531C693.7,535 686.7,535.7 680,536C673.3,536.3 665.5,535.8 660,533C654.5,530.2 650.7,524.7 647,519C643.3,513.3 641.6,505.2 637.6,498.8C633.6,492.4 628.2,486.2 622.7,480.9C617.2,475.5 612.8,471.9 604.8,466.7C596.8,461.5 583.7,453.9 574.9,449.6C566.1,445.3 556.7,443 552,441C547.3,439 549.6,442.5 546.5,437.6C543.4,432.7 536.1,420.1 533.5,411.4C530.9,402.7 530.9,392.4 530.9,385.3Z" fill="#B81212"/>
<path d="M646,519C646.4,521.6 653.3,534.1 657.6,537.5C661.9,540.9 667.3,539.5 672,539.5C676.7,539.5 681,538.8 686,537.5C691,536.2 697.1,534.2 702,532C706.9,529.8 711.7,527.2 715.5,524.5C719.3,521.8 722.4,522.1 725,516C727.6,509.9 731.8,491.5 731,488C730.2,484.5 724.3,490.5 720,495C715.7,499.5 710,510 705,515C700,520 695.8,522.8 690,525C684.2,527.2 675.8,528.5 670,528C664.2,527.5 659,523.5 655,522C651,520.5 645.6,516.4 646,519Z" fill="#97090A"/>
<path d="M587.6,403.3C587.2,399.3 589.1,395.1 592,392.5C594.9,389.9 599.7,387.7 604.8,387.6C609.9,387.5 615.2,388 622.7,392.1C630.2,396.2 640.7,404.6 649.6,412.2C658.5,419.8 669.7,430.4 676.4,437.6C683.1,444.8 686.8,448.5 689.9,455.5C693,462.5 694,468.6 695.1,479.4C696.2,490.1 696.4,513.2 696.6,520C692.4,520 675.4,520 671.2,520C671.1,514.7 671.5,496.7 670.4,488.4C669.3,480.1 668,476.4 664.5,470.4C661,464.4 657.1,459.2 649.6,452.5C642.1,445.8 628.9,436.1 619.7,430.1C610.5,424.1 599.6,421.2 594.3,416.7C588.9,412.2 588,407.3 587.6,403.3Z" fill="#E04030"/>
<path d="M599.1,402.5C599.1,400.6 603.9,398.5 607.8,399.1C611.7,399.7 616.7,402.4 622.7,406.3C628.7,410.2 636.6,416.5 643.6,422.7C650.6,428.9 658.5,437.1 664.5,443.6C670.5,450.1 676.2,455.5 679.4,461.5C682.6,467.5 682.9,469 683.9,479.4C684.9,489.8 685.3,516.6 685.6,524C685.2,524 683.7,524 683.3,524C683,519 682.5,502.7 681.6,494.3C680.7,485.9 680.2,479.9 677.9,473.4C675.5,466.9 672.2,461.5 667.5,455.5C662.8,449.5 657.1,443.6 649.6,437.6C642.1,431.6 629.7,424.2 622.7,419.7C615.7,415.2 611.7,413.6 607.8,410.7C603.9,407.8 599.1,404.4 599.1,402.5Z" fill="#97090A"/>
<path d="M676.5,505C676.4,507.8 677.4,517.8 676,522C674.6,526.2 671.2,529.4 668,530.5C664.8,531.6 660.2,530.8 657,528.5C653.8,526.2 651.1,520 649,517C646.9,514 645.8,510.5 644.5,510.5C643.2,510.5 641.6,515.9 641,517" fill="none" stroke="#E04030" stroke-width="10" stroke-linecap="round" stroke-linejoin="round"/>
<path d="M691,505C691.1,507.5 690.3,516.4 691.5,520C692.7,523.6 695.4,526.5 698,526.5C700.6,526.5 704.3,523.4 707,520C709.7,516.6 712,510.5 714,506C716,501.5 716.9,496.2 719,493C721.1,489.8 725.2,488 726.5,487" fill="none" stroke="#E04030" stroke-width="9.5" stroke-linecap="round" stroke-linejoin="round"/>
<path d="M727,496C725.8,497.2 724.2,505.7 722,510C719.8,514.3 714.2,520.8 714,522C713.8,523.2 718.5,520.2 721,517C723.5,513.8 728,506.5 729,503C730,499.5 728.2,494.8 727,496Z" fill="#97090A"/>
<path d="M408,478C409.8,476.2 428.3,465.4 440,461C451.7,456.6 464.7,453.4 478,451.5C491.3,449.6 505.9,448.7 520,449.5C534.1,450.3 553.2,453.9 562.9,456.5C572.6,459.1 574.1,461.9 578,465C581.9,468.1 585.7,472.3 586,475C586.3,477.7 587.2,481.7 580,481C572.8,480.3 560,473 543,471C526,469 497,468.8 478,469C459,469.2 440.7,470.5 429,472C417.3,473.5 406.2,479.8 408,478Z" fill="#BFBAAB" fill-opacity="0.55"/>
<path d="M394.7,503C394.6,497.6 396.1,493.3 397.5,490C398.9,486.7 400.3,485.6 402.9,483.3C405.5,481 408.6,477.9 413,476C417.4,474.1 418.2,473 429,471.8C439.8,470.6 458.9,468.9 478,468.6C497.1,468.3 529.7,469.5 543.3,470.2C556.9,470.9 553.5,471 559.6,472.8C565.7,474.6 574.6,478.7 580,481C585.4,483.3 588.7,485.2 592,486.5C595.3,487.8 597.5,488.4 600,488.5C602.5,488.6 604.8,487.2 607,487C609.2,486.8 611.2,486.3 613.5,487.5C615.8,488.7 618.1,491.2 620.8,494.2C623.5,497.2 627.5,502.1 629.8,505.5C632,508.9 633.2,511.4 634.3,514.5C635.4,517.6 636,519.8 636.5,524C637,528.2 637.1,535.3 637.3,540C637.5,544.7 638.5,545.7 637.5,552C636.5,558.3 635.2,568.8 631,578C626.8,587.2 617.2,599.7 612,607C606.8,614.3 602,619.5 600,622C595.5,623.4 580.7,625.9 573.1,630.4C565.5,634.9 561.6,640.2 554.6,648.9C547.6,657.6 539.4,672.2 531,682.6C522.6,693 509.7,705.5 504.1,711.3C498.5,717 500.5,716.8 497.4,717.1C494.3,717.4 489,714.7 485.6,712.9C482.2,711.1 480.9,708.7 477.2,706.2C473.5,703.7 469.9,700.6 463.7,697.8C457.5,695 444,690.8 440.1,689.4C443.5,686.9 453.6,679.5 460.3,674.2C467,668.9 473.5,664.1 480.5,657.4C487.5,650.7 498.2,639.4 502.4,633.8C506.6,628.2 505.5,625.9 505.8,623.7C506.1,621.5 508.6,623.1 504,620.4C499.4,617.7 487.8,612.7 478,607.3C468.2,601.9 456.2,596.5 445.3,587.8C434.4,579.1 420.6,566 412.7,555.1C404.8,544.2 401,531.1 398,522.4C395,513.7 394.8,508.4 394.7,503Z" fill="#DF8543" stroke="#E69A56" stroke-width="1.0"/>
<path d="M429,509.4C429.5,505.3 430.4,500.7 432,498C433.6,495.3 433.3,494.6 438.8,493C444.3,491.4 450.2,488.2 464.9,488.2C479.6,488.2 508.2,489.7 526.9,493C545.6,496.3 563.7,501.1 577,507.8C590.3,514.5 600.9,525.6 606.8,533.5C612.7,541.4 612.8,547.7 612.5,555.1C612.2,562.5 609.2,571.5 605.3,578C601.4,584.5 595,590.5 589,594.3C583,598.1 574.3,599.3 569.4,600.8C564.5,602.3 561.3,603 559.7,603.5C557.7,608.3 553.8,622.3 547.9,632.1C542,641.9 536.1,650 524.3,662.4C512.5,674.8 485,698.9 477.2,706.2C474.9,704.8 465.9,699.2 463.7,697.8C470.7,691.9 494.6,673.3 505.8,662.4C517,651.5 525.4,641.4 531,632.1C536.6,622.8 538,612.5 539.5,606.8C541,601 541,601.3 540,597.6C539,593.9 538.4,587.2 533.5,584.5C528.6,581.8 519.9,583.4 510.6,581.2C501.4,579 488.9,577.4 478,571.4C467.1,565.4 453.5,553.5 445.3,545.3C437.1,537.1 431.7,528.4 429,522.4C426.3,516.4 428.5,513.5 429,509.4Z" fill="#97090A"/>
<ellipse cx="364.5" cy="563" rx="98" ry="50" transform="rotate(56 364.5 563)" fill="#D9D9D9" stroke="#C6C6C6" stroke-width="2.2"/>
<path d="M581.6,631.3C580.5,630.4 578,630.1 576,630.5C574,630.9 572.8,631 569.8,633.8C566.8,636.6 561.6,642.8 558,647.3C554.4,651.8 551.3,656.2 547.9,660.7C544.5,665.2 540.6,670.3 537.8,674.2C535,678.1 533.8,680.4 531,684.3C528.2,688.2 524.5,693.3 520.9,697.8C517.3,702.3 513,707.5 509.2,711.3C505.4,715.1 499,719 498.2,720.5C497.4,722 501.6,721.8 504.1,720.5C506.6,719.2 509.5,716.2 513,713C516.5,709.8 520.6,705.2 525,701.5C529.4,697.8 535.7,694.1 539.5,691C543.3,687.9 544.8,686.2 547.9,682.6C551,679 555.2,672.8 558,669.1C560.8,665.5 561.6,664.3 564.7,660.7C567.8,657.1 573.5,651.4 576.5,647.3C579.5,643.2 581.8,638.7 582.6,636C583.5,633.3 582.7,632.2 581.6,631.3Z" fill="#CC33FF"/>
<circle cx="559.7" cy="670" r="3" fill="#F28C46"/>
<circle cx="554.6" cy="676.7" r="3" fill="#F28C46"/>
<circle cx="548.7" cy="682.6" r="3" fill="#F28C46"/>
<ellipse cx="587.5" cy="724.7" rx="12.5" ry="7.5" transform="rotate(-48 587.5 724.7)" fill="#ECAA72" stroke="#E29858" stroke-width="1"/>
<path d="M579,733C578.2,733.8 575.5,737.1 574,738C572.5,738.9 570.5,738.2 569.8,738.2" fill="none" stroke="#E8A062" stroke-width="2.5" stroke-linecap="round"/>
<path d="M638,806C644.2,806.8 662.7,809.2 675,810.5C687.3,811.8 700.3,813.2 712,813.5C723.7,813.8 734.7,813.3 745,812.5C755.3,811.7 763.2,810.8 774,808.5C784.8,806.2 799.3,802.4 810,799C820.7,795.6 833.3,789.8 838,788" fill="none" stroke="#C47E3E" stroke-width="2.4" stroke-linecap="round"/>
<path d="M695.8,862C702.7,861 724,859.9 737,856C750,852.1 765.5,843 774,838.5C782.5,834 784.2,831.8 788,829C791.8,826.2 795.5,823.2 797,822" fill="none" stroke="#C47E3E" stroke-width="2.4" stroke-linecap="round"/>
<path class="ln" d="M524.3,70V240"/>
<circle class="dot" cx="524.3" cy="240" r="6.8"/>
<text x="457.8" y="52.7" text-anchor="start">eileider</text>
<path class="ln" d="M591.5,274H959.5"/>
<circle class="dot" cx="591.5" cy="274.3" r="6.8"/>
<text x="973.6" y="289" text-anchor="start">eierstok</text>
<path class="ln" d="M624,413.5L973,415.5"/>
<circle class="dot" cx="624" cy="413.5" r="6.8"/>
<text x="989.5" y="432" text-anchor="start">baarmoeder</text>
<path class="ln" d="M774,568.8H973"/>
<circle class="dot" cx="774" cy="568.8" r="6.8"/>
<text x="989.7" y="584.5" text-anchor="start">endeldarm</text>
<path class="ln" d="M618.3,627.6H973.3"/>
<circle class="dot" cx="618.3" cy="627.9" r="6.8"/>
<text x="989.5" y="642.5" text-anchor="start">vagina</text>
<path class="ln" d="M715,722.7H943"/>
<circle class="dot" cx="715" cy="722" r="6.8"/>
<text x="958" y="737" text-anchor="start">anus</text>
<path class="ln" d="M197.5,533H461"/>
<circle class="dot" cx="461" cy="533" r="6.8"/>
<text x="182.5" y="546.8" text-anchor="end">blaas</text>
<path class="ln" d="M197.5,671.5H317.5"/>
<circle class="dot" cx="317.5" cy="671.5" r="6.8"/>
<text x="182.5" y="687.2" text-anchor="end">clitoris</text>
<path class="ln" d="M368,755.5H214.4V989"/>
<circle class="dot" cx="368" cy="755.5" r="6.8"/>
<text x="33.8" y="1036.7" text-anchor="start">grote schaamlippen</text>
<path class="ln" d="M514.7,741.6V922.3"/>
<circle class="dot" cx="514.7" cy="741.6" r="6.8"/>
<text x="328.2" y="970.7" text-anchor="start">kleine schaamlippen</text>
</svg>
</body>
</html>
